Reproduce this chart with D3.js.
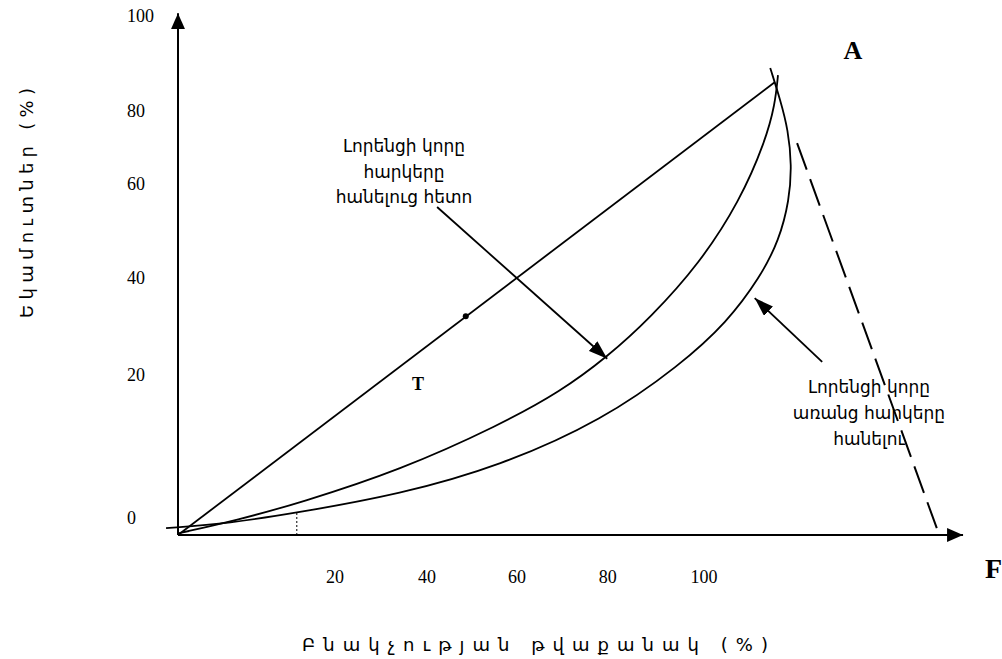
<!DOCTYPE html>
<html>
<head>
<meta charset="utf-8">
<script src="https://cdn.jsdelivr.net/npm/d3@7"></script>
<style>
  html, body { margin: 0; padding: 0; background: #fff; }
  svg { display: block; }
</style>
</head>
<body>
<div id="chart"></div>
<script>
// ---------- data (chart units: % of population, % of income) ----------
const xTickLabels = ["20", "40", "60", "80", "100"];
const xTickAt = [26.3, 41.7, 56.8, 72.0, 88.1];
const yTickLabels = ["100", "80", "60", "40", "20", "0"];
const yTickAt = [114.6, 93.6, 77.5, 56.7, 35.3, 3.75];

// equality line
const equalityX = [0, 100];
const equalityY = [0, 100];

// Lorenz curve after taxes
const afterTaxX = [0.2, 10.0, 20.4, 37.2, 53.9, 64.0, 71.9, 79.1, 87.4, 94.1, 98.4, 100.0, 100.5];
const afterTaxY = [0.4, 3.3, 7.1, 14.3, 24.3, 31.6, 39.3, 47.9, 60.0, 73.7, 87.0, 95.0, 101.5];

// Lorenz curve before taxes
const beforeTaxX = [-2.0, 8.7, 19.9, 37.2, 53.9, 71.2, 84.1, 92.0, 97.5, 100.7, 102.4, 102.8, 102.2, 100.9, 99.2];
const beforeTaxY = [1.5, 2.6, 4.9, 9.0, 15.2, 25.4, 37.5, 47.0, 56.9, 65.1, 73.9, 81.7, 89.4, 96.0, 103.1];

// dashed line towards F
const dashedX = [103.7, 127.1];
const dashedY = [86.5, 1.5];

// point on the equality line
const dotX = [48.2];
const dotY = [48.3];

// dotted marker
const dottedX = [19.9, 19.9];
const dottedY = [0, 4.9];

// annotation arrows
const arrowFromX = [43.4, 107.9];
const arrowFromY = [72.4, 38.2];
const arrowToX = [71.9, 96.6];
const arrowToY = [38.9, 52.3];

const note1 = ["Լորենցի կորը", "հարկերը", "հանելուց հետո"];
const note2 = ["Լորենցի կորը", "առանց հարկերը", "հանելու"];
const xTitle = "Բնակչության թվաքանակ (%)";
const yTitle = "Եկամուտներ (%)";

// ---------- drawing ----------
const W = 1002, H = 659;
const svg = d3.select("#chart").append("svg").attr("width", W).attr("height", H);

const x = d3.scaleLinear().domain([0, 100]).range([178, 775]);
const y = d3.scaleLinear().domain([0, 100]).range([535, 82]);

const defs = svg.append("defs");
defs.append("marker")
  .attr("id", "ah").attr("markerUnits", "userSpaceOnUse")
  .attr("viewBox", "0 0 19 13").attr("refX", 19).attr("refY", 6.5)
  .attr("markerWidth", 19).attr("markerHeight", 13).attr("orient", "auto")
  .append("path").attr("d", "M0,0 L19,6.5 L0,13 Z").attr("fill", "#000");
defs.append("marker")
  .attr("id", "axh").attr("markerUnits", "userSpaceOnUse")
  .attr("viewBox", "0 0 16 14").attr("refX", 16).attr("refY", 7)
  .attr("markerWidth", 16).attr("markerHeight", 14).attr("orient", "auto")
  .append("path").attr("d", "M0,0 L16,7 L0,14 Z").attr("fill", "#000");

// axes
svg.append("line")
  .attr("x1", x(0)).attr("y1", y(0)).attr("x2", x(0)).attr("y2", y(115.2))
  .attr("stroke", "#000").attr("stroke-width", 2).attr("marker-end", "url(#axh)");
svg.append("line")
  .attr("x1", x(0)).attr("y1", y(0)).attr("x2", x(131.5)).attr("y2", y(0))
  .attr("stroke", "#000").attr("stroke-width", 2).attr("marker-end", "url(#axh)");

// tick labels
const serif = "Liberation Serif, Times New Roman, serif";
svg.selectAll(".xt").data(xTickLabels).enter().append("text")
  .attr("x", (d, i) => x(xTickAt[i])).attr("y", 577)
  .attr("text-anchor", "middle").attr("dominant-baseline", "central")
  .attr("font-family", serif).attr("font-size", 18)
  .text(d => d);
svg.selectAll(".yt").data(yTickLabels).enter().append("text")
  .attr("x", 127).attr("y", (d, i) => y(yTickAt[i]))
  .attr("text-anchor", "start").attr("dominant-baseline", "central")
  .attr("font-family", serif).attr("font-size", 18)
  .text(d => d);

const line = d3.line().x(d => x(d[0])).y(d => y(d[1]));
const smooth = d3.line().x(d => x(d[0])).y(d => y(d[1])).curve(d3.curveBasis);

// equality line
svg.append("path").datum(equalityX.map((v, i) => [v, equalityY[i]]))
  .attr("d", line).attr("fill", "none").attr("stroke", "#000").attr("stroke-width", 1.8);

// Lorenz curves
svg.append("path").datum(afterTaxX.map((v, i) => [v, afterTaxY[i]]))
  .attr("d", smooth).attr("fill", "none").attr("stroke", "#000").attr("stroke-width", 1.8);
svg.append("path").datum(beforeTaxX.map((v, i) => [v, beforeTaxY[i]]))
  .attr("d", smooth).attr("fill", "none").attr("stroke", "#000").attr("stroke-width", 1.8);

// dashed line
svg.append("path").datum(dashedX.map((v, i) => [v, dashedY[i]]))
  .attr("d", line).attr("fill", "none").attr("stroke", "#000").attr("stroke-width", 2)
  .attr("stroke-dasharray", "28.2,10");

// dotted line
svg.append("path").datum(dottedX.map((v, i) => [v, dottedY[i]]))
  .attr("d", line).attr("fill", "none").attr("stroke", "#000").attr("stroke-width", 1)
  .attr("stroke-dasharray", "2,2");

// dot
svg.selectAll(".dot").data(dotX).enter().append("circle")
  .attr("cx", d => x(d)).attr("cy", (d, i) => y(dotY[i])).attr("r", 3).attr("fill", "#000");

// annotation arrows
svg.selectAll(".arr").data(arrowFromX).enter().append("line")
  .attr("x1", d => x(d)).attr("y1", (d, i) => y(arrowFromY[i]))
  .attr("x2", (d, i) => x(arrowToX[i])).attr("y2", (d, i) => y(arrowToY[i]))
  .attr("stroke", "#000").attr("stroke-width", 1.8).attr("marker-end", "url(#ah)");

// notes
const armFont = "DejaVu Sans, Noto Sans, sans-serif";
function note(lines, cx, y0, dy) {
  const t = svg.append("text").attr("font-family", armFont).attr("font-size", 17)
    .attr("text-anchor", "middle").attr("fill", "#000");
  lines.forEach((s, i) => t.append("tspan").attr("x", cx).attr("y", y0 + i * dy).text(s));
}
note(note1, 404, 152, 25.5);
note(note2, 869, 393, 26);

// letters
svg.append("text").attr("x", 853).attr("y", 59).attr("text-anchor", "middle")
  .attr("font-family", serif).attr("font-weight", "bold").attr("font-size", 26).text("A");
svg.append("text").attr("x", 985).attr("y", 578).attr("text-anchor", "start")
  .attr("font-family", serif).attr("font-weight", "bold").attr("font-size", 28).text("F");
svg.append("text").attr("x", 418).attr("y", 390).attr("text-anchor", "middle")
  .attr("font-family", serif).attr("font-weight", "bold").attr("font-size", 18).text("T");

// axis titles
svg.append("text").attr("x", 302).attr("y", 651)
  .attr("font-family", armFont).attr("font-size", 18)
  .attr("textLength", 466).attr("lengthAdjust", "spacing").text(xTitle);
svg.append("text").attr("transform", "translate(33,318) rotate(-90)")
  .attr("x", 0).attr("y", 0)
  .attr("font-family", armFont).attr("font-size", 18)
  .attr("textLength", 230).attr("lengthAdjust", "spacing").text(yTitle);
</script>
</body>
</html>
